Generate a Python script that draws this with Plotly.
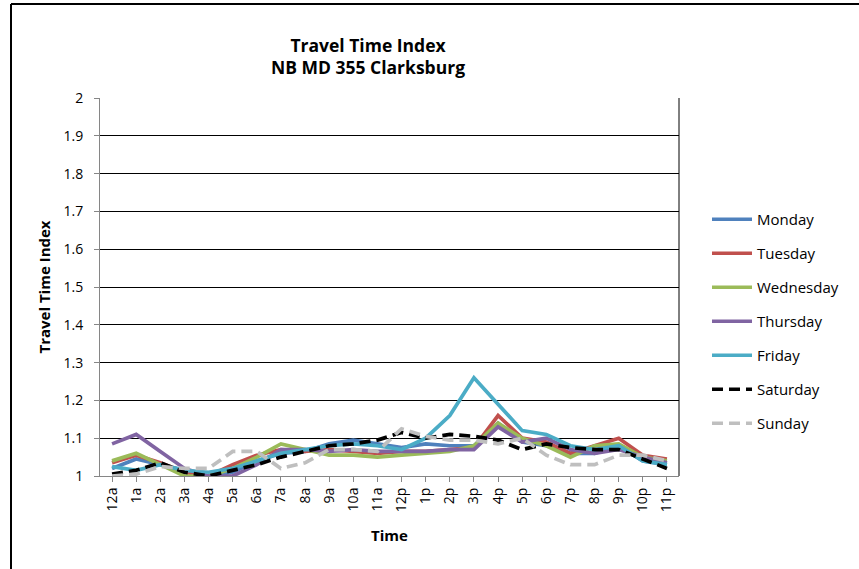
import plotly.graph_objects as go

hours = ["12a", "1a", "2a", "3a", "4a", "5a", "6a", "7a", "8a", "9a", "10a", "11a",
         "12p", "1p", "2p", "3p", "4p", "5p", "6p", "7p", "8p", "9p", "10p", "11p"]

monday = [1.02, 1.045, 1.03, 1.015, 1.0, 1.01, 1.04, 1.06, 1.065, 1.085, 1.095, 1.085,
          1.075, 1.085, 1.08, 1.08, 1.14, 1.09, 1.08, 1.06, 1.06, 1.08, 1.04, 1.03]
tuesday = [1.035, 1.055, 1.035, 1.01, 1.0, 1.03, 1.055, 1.07, 1.065, 1.07, 1.065, 1.06,
           1.065, 1.065, 1.07, 1.075, 1.16, 1.1, 1.09, 1.06, 1.08, 1.1, 1.055, 1.045]
wednesday = [1.04, 1.06, 1.03, 1.0, 1.0, 1.02, 1.05, 1.085, 1.07, 1.055, 1.055, 1.05,
             1.055, 1.06, 1.065, 1.08, 1.14, 1.1, 1.08, 1.05, 1.08, 1.085, 1.05, 1.04]
thursday = [1.085, 1.11, 1.065, 1.02, 1.0, 1.0, 1.03, 1.07, 1.07, 1.065, 1.07, 1.065,
            1.065, 1.065, 1.07, 1.07, 1.13, 1.09, 1.1, 1.07, 1.06, 1.07, 1.05, 1.035]
friday = [1.025, 1.015, 1.03, 1.015, 1.01, 1.02, 1.04, 1.06, 1.07, 1.08, 1.085, 1.08,
          1.07, 1.1, 1.16, 1.26, 1.19, 1.12, 1.11, 1.08, 1.07, 1.08, 1.04, 1.03]
saturday = [1.005, 1.015, 1.035, 1.01, 1.0, 1.015, 1.03, 1.05, 1.065, 1.08, 1.085, 1.095,
            1.115, 1.1, 1.11, 1.105, 1.095, 1.07, 1.085, 1.075, 1.07, 1.07, 1.045, 1.02]
sunday = [1.0, 1.005, 1.025, 1.02, 1.02, 1.065, 1.065, 1.02, 1.035, 1.07, 1.07, 1.065,
          1.125, 1.105, 1.095, 1.095, 1.085, 1.1, 1.055, 1.03, 1.03, 1.055, 1.055, 1.04]

series = [
    ("Monday", monday, "#4F81BD", "solid"),
    ("Tuesday", tuesday, "#C0504D", "solid"),
    ("Wednesday", wednesday, "#9BBB59", "solid"),
    ("Thursday", thursday, "#8064A2", "solid"),
    ("Friday", friday, "#4BACC6", "solid"),
    ("Saturday", saturday, "#000000", "11px,6px"),
    ("Sunday", sunday, "#BFBFBF", "11px,6px"),
]

FONT = "Open Sans"

W, H = 859, 569
L, T, R, B = 100, 98, 180, 93
PW = W - L - R
PH = H - T - B


def px_x(px):
    return (px - L) / PW


def px_y(py):
    return (T + PH - py) / PH


fig = go.Figure()
for name, vals, color, dash in series:
    fig.add_trace(go.Scatter(
        x=hours, y=vals, mode="lines", name=name,
        legendgroup=name,
        line=dict(color=color, width=3.7, dash=dash),
    ))

fig.update_layout(
    width=W, height=H,
    margin=dict(l=L, r=R, t=T, b=B),
    paper_bgcolor="white", plot_bgcolor="white",
    font=dict(family=FONT, size=14, color="#000000"),
    title=dict(
        text="<b>Travel Time Index</b><br><b>NB MD 355 Clarksburg</b>",
        x=368 / W, xanchor="center", y=1 - 51.5 / H, yanchor="middle",
        font=dict(family=FONT, size=17.5, color="#000000"),
    ),
    showlegend=True,
    legend=dict(
        x=px_x(707), xanchor="left", y=px_y(203), yanchor="top",
        font=dict(family=FONT, size=15, color="#000000"),
        tracegroupgap=11.5, itemwidth=40,
        bgcolor="rgba(0,0,0,0)",
    ),
    xaxis=dict(
        type="category", tickangle=-90,
        showline=True, linecolor="#868686", linewidth=1,
        ticks="outside", ticklen=5, tickcolor="#868686",
        showgrid=False, tickfont=dict(size=14),
        title=dict(text="<b>Time</b>", font=dict(size=15), standoff=19),
        range=[-0.5, 23.5],
    ),
    yaxis=dict(
        range=[1, 2], dtick=0.1,
        showline=True, linecolor="#868686", linewidth=1,
        ticks="outside", ticklen=5, tickcolor="#868686",
        ticklabelstandoff=8,
        showgrid=True, gridcolor="#000000", gridwidth=1,
        tickfont=dict(size=14), zeroline=False,
        title=dict(text="<b>Travel Time Index</b>", font=dict(size=15), standoff=9),
    ),
    shapes=[
        dict(type="line", xref="paper", yref="paper", x0=1, x1=1, y0=0, y1=1,
             line=dict(color="#000000", width=1)),
        dict(type="line", xref="paper", yref="paper",
             x0=px_x(11), x1=px_x(880), y0=px_y(4), y1=px_y(4),
             line=dict(color="#000000", width=2), layer="above"),
        dict(type="line", xref="paper", yref="paper",
             x0=px_x(11), x1=px_x(11), y0=px_y(4), y1=px_y(600),
             line=dict(color="#000000", width=2), layer="above"),
    ],
)

fig.write_html("out.html", config={"displayModeBar": False},
               post_script="document.body.style.margin='0';")
